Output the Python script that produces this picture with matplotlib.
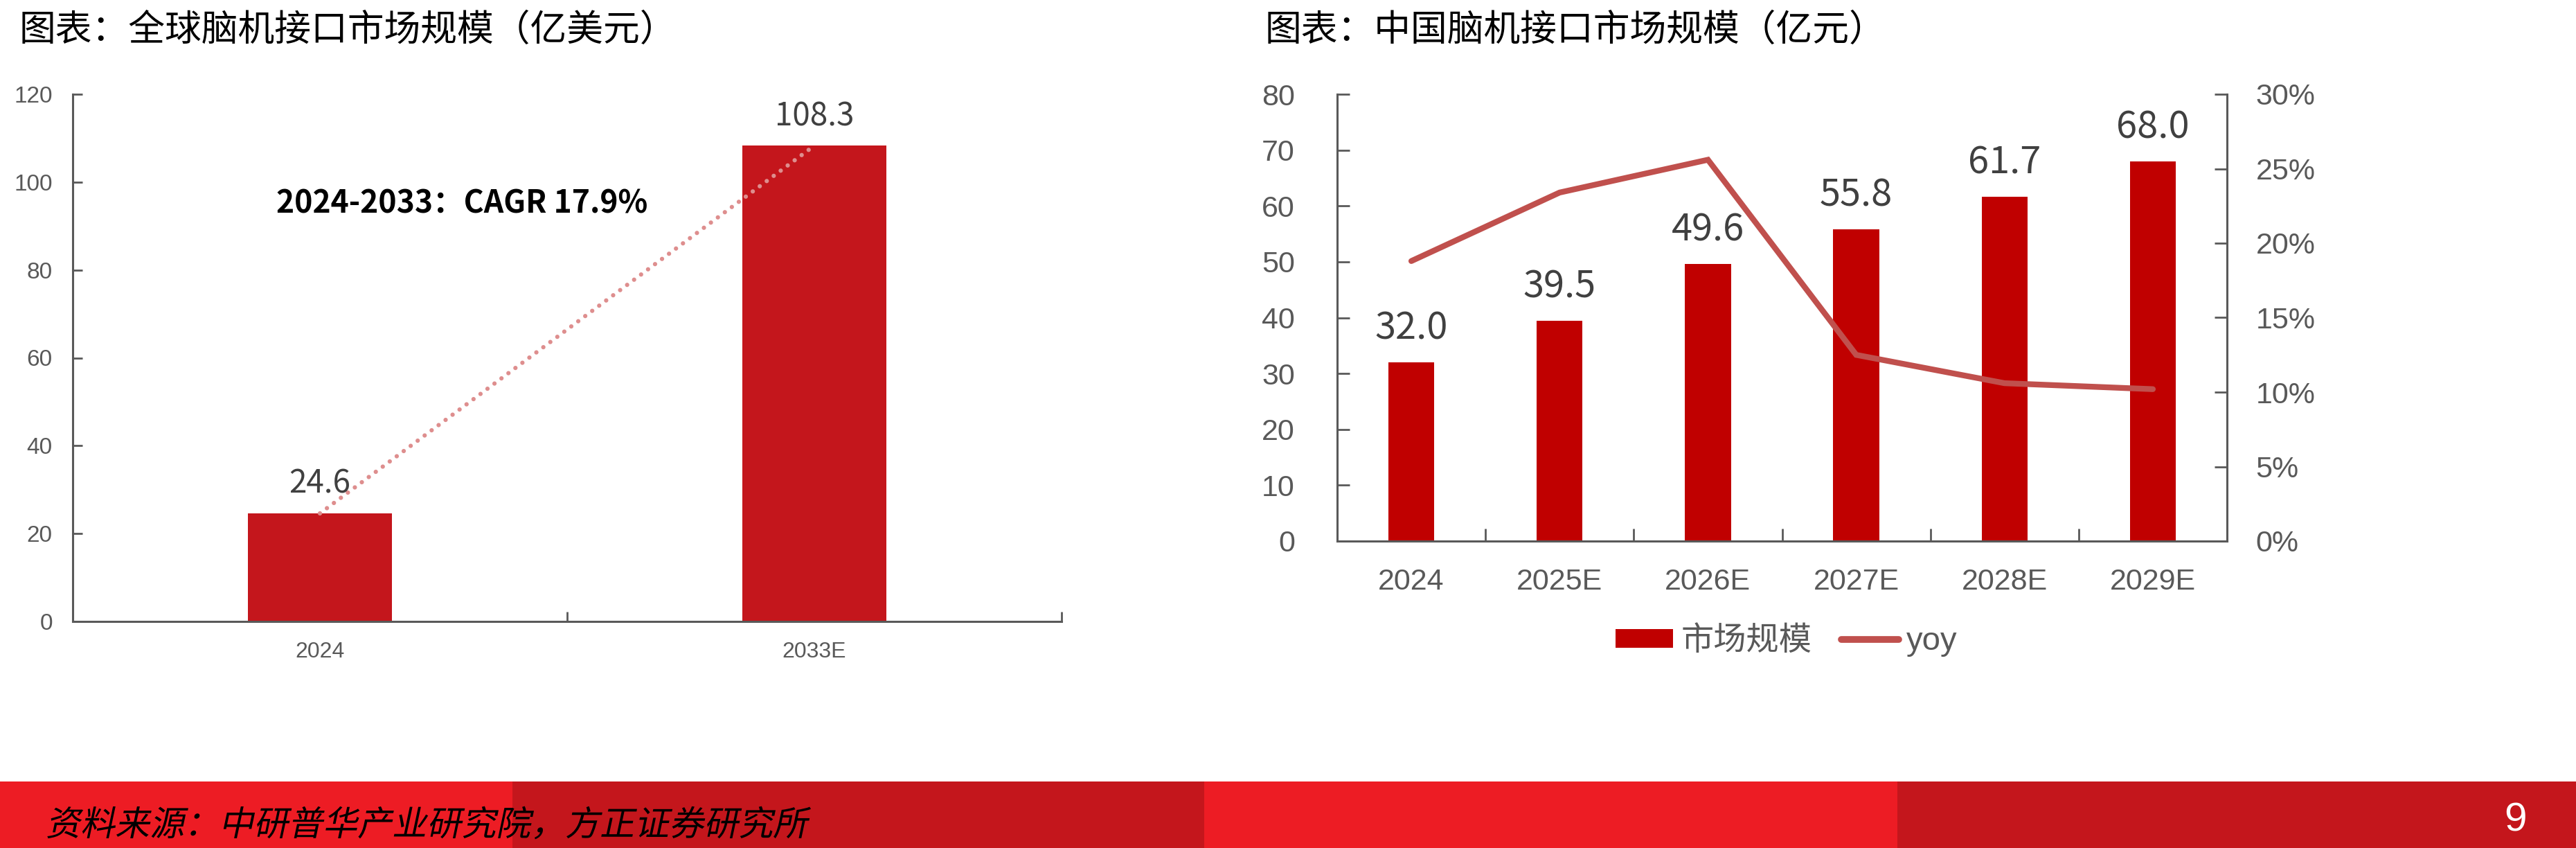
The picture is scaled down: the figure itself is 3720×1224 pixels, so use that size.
"""
全球 / 中国脑机接口市场规模双图（复刻）
"""
import numpy as np
import matplotlib
matplotlib.use("Agg")
import matplotlib.pyplot as plt
from matplotlib import font_manager as fm
from matplotlib.patches import Rectangle, PathPatch, Patch
from matplotlib.lines import Line2D
from matplotlib.textpath import TextPath
from matplotlib.ticker import PercentFormatter
import matplotlib.transforms as mtransforms

# ---- data ----
global_years = ["2024", "2033E"]
global_size = [24.6, 108.3]            # 亿美元
cagr_text = "2024-2033：CAGR 17.9%"

china_years = ["2024", "2025E", "2026E", "2027E", "2028E", "2029E"]
china_size = [32.0, 39.5, 49.6, 55.8, 61.7, 68.0]   # 亿元
china_yoy = [0.188, 0.234, 0.256, 0.125, 0.106, 0.102]

left_title = "图表：全球脑机接口市场规模（亿美元）"
right_title = "图表：中国脑机接口市场规模（亿元）"
source_text = "资料来源：中研普华产业研究院，方正证券研究所"
page_no = "9"

# ---- fonts / colours ----
names = {f.name for f in fm.fontManager.ttflist}
CJK = "Noto Sans CJK SC"
MONO = "Noto Sans Mono CJK SC" if "Noto Sans Mono CJK SC" in names else CJK
SANS = ["Liberation Sans", CJK]
plt.rcParams["font.family"] = SANS

GRAY = "#595959"
LABEL = "#404040"
BAR_L = "#C4161C"
BAR_R = "#C00000"
LINE_R = "#C0504D"
DOT = "#DE8E8E"

W, H = 3720, 1224
fig = plt.figure(figsize=(W / 100, H / 100), dpi=100)


def frac(x0, y0, x1, y1):
    # pixel box (top-left origin) -> figure fraction rect
    return [x0 / W, 1 - y1 / H, (x1 - x0) / W, (y1 - y0) / H]


def style_axis(ax, spines=("left", "bottom")):
    for s in ax.spines:
        ax.spines[s].set_visible(s in spines)
        ax.spines[s].set_color(GRAY)
        ax.spines[s].set_linewidth(2.2)


# ---- left chart ----
ax1 = fig.add_axes(frac(105, 136, 1533, 897))
x1 = np.arange(len(global_years))
ax1.bar(x1, global_size, width=0.29, color=BAR_L, zorder=2)
ax1.plot(x1, global_size, linestyle=(0, (0.01, 2.0)), dash_capstyle="round",
         lw=4.5, color=DOT, zorder=3)
for xi, v in zip(x1, global_size):
    ax1.annotate(f"{v:.1f}", (xi, v), xytext=(0, 21), textcoords="offset points",
                 ha="center", va="baseline", fontsize=33, color=LABEL, family=MONO)
ax1.text(-0.088, 95, cagr_text, ha="left", va="center", fontsize=32,
         color="black", family=MONO, fontweight="bold")
ax1.set_xlim(-0.5, 1.5)
ax1.set_ylim(0, 120)
ax1.set_yticks(np.arange(0, 121, 20))
ax1.set_xticks(x1, global_years)
ax1.set_xticks([0.5, 1.5], minor=True)
style_axis(ax1)
ax1.tick_params(axis="y", direction="in", length=10, width=2, color=GRAY,
                labelcolor=GRAY, labelsize=24, pad=21)
ax1.tick_params(axis="x", which="major", length=0, labelcolor=GRAY, labelsize=23, pad=21)
ax1.tick_params(axis="x", which="minor", direction="in", length=10, width=2, color=GRAY)

# ---- right chart ----
ax2 = fig.add_axes(frac(1931, 136, 3216, 781))
x2 = np.arange(len(china_years))
ax2.bar(x2, china_size, width=0.31, color=BAR_R, zorder=2)
for xi, v in zip(x2, china_size):
    ax2.annotate(f"{v:.1f}", (xi, v), xytext=(0, 24), textcoords="offset points",
                 ha="center", va="baseline", fontsize=39, color=LABEL, family=MONO)
ax2.set_xlim(-0.5, len(china_years) - 0.5)
ax2.set_ylim(0, 80)
ax2.set_yticks(np.arange(0, 81, 10))
ax2.set_xticks(x2, china_years)
ax2.set_xticks(np.arange(0.5, len(china_years), 1), minor=True)
style_axis(ax2)
ax2.tick_params(axis="y", direction="in", length=13, width=2, color=GRAY,
                labelcolor=GRAY, labelsize=31, pad=44)
ax2.tick_params(axis="x", which="major", length=0, labelcolor=GRAY, labelsize=31, pad=28)
ax2.tick_params(axis="x", which="minor", direction="in", length=13, width=2, color=GRAY)

ax2b = ax2.twinx()
ax2b.plot(x2, china_yoy, color=LINE_R, lw=6, solid_capstyle="round",
          solid_joinstyle="miter", zorder=3)
ax2b.set_ylim(0, 0.30)
ax2b.set_yticks(np.arange(0, 0.301, 0.05))
ax2b.yaxis.set_major_formatter(PercentFormatter(1.0, decimals=0))
style_axis(ax2b, spines=("right",))
ax2b.tick_params(axis="y", direction="in", length=13, width=2, color=GRAY,
                 labelcolor=GRAY, labelsize=31, pad=30)

handles = [Patch(facecolor=BAR_R, edgecolor="none", label="市场规模"),
           Line2D([], [], color=LINE_R, lw=7, solid_capstyle="round", label="yoy")]
ax2.legend(handles=handles, loc="center", ncol=2, frameon=False,
           bbox_to_anchor=(2580 / W, 1 - 926 / H), bbox_transform=fig.transFigure,
           fontsize=34, labelcolor=GRAY, handlelength=1.75, handleheight=0.5,
           handletextpad=0.25, columnspacing=0.9)

# ---- titles ----
fig.text(28 / W, 1 - 43 / H, left_title, fontsize=38, family=[CJK], va="center", ha="left")
fig.text(1827 / W, 1 - 43 / H, right_title, fontsize=38, family=[CJK], va="center", ha="left")

# ---- footer band ----
band_edges = [0, 740, 1739, 2740, 3720]
band_cols = ["#ED1C24", "#C4161C", "#ED1C24", "#C4161C"]
for (a, b), c in zip(zip(band_edges[:-1], band_edges[1:]), band_cols):
    fig.add_artist(Rectangle((a / W, 0), (b - a) / W, 96 / H, transform=fig.transFigure,
                             facecolor=c, edgecolor="none", zorder=0))

# italic source line: skew the text path since the CJK font has no italic
tp = TextPath((0, 0), source_text, size=50, prop=fm.FontProperties(family=CJK))
tr = mtransforms.Affine2D().skew_deg(12, 0).translate(66, 18)
fig.add_artist(PathPatch(tp, transform=tr, facecolor="black", edgecolor="none", zorder=5))

fig.text(3632 / W, 1 - 1185 / H, page_no, color="white", fontsize=42,
         ha="center", va="center")

fig.savefig("out.png", dpi=100)
